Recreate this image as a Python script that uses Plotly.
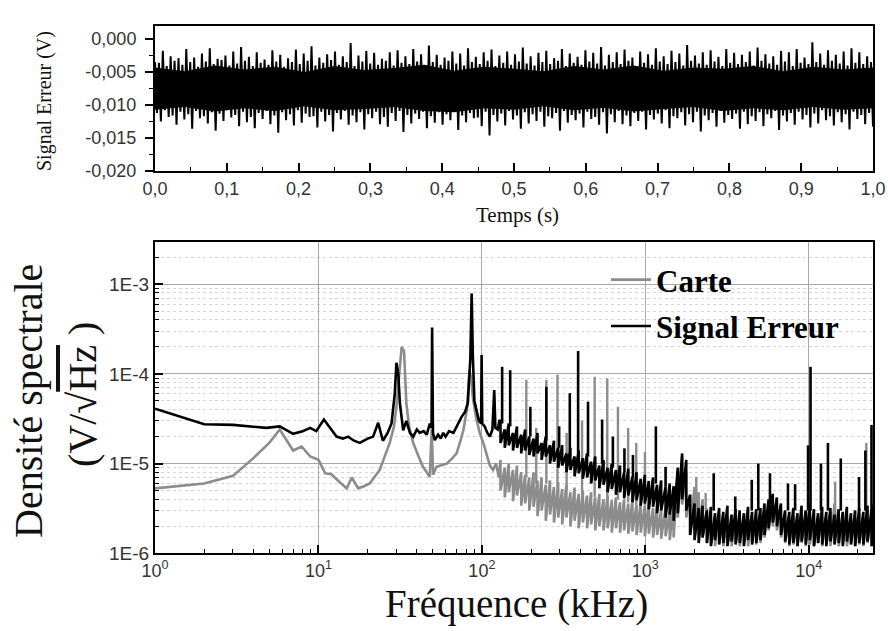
import numpy as np
import plotly.graph_objects as go

W, H = 888, 631

# ---------------- top panel: error signal (mV) ----------------
sig_hi = [-3.5,-1.8,-2.6,-2.9,-1.5,-2.8,-2.2,-1.4,-3.0,-2.5,
          -1.9,-1.2,-2.7,-2.0,-3.1,-1.7,-2.4,-2.9,-1.6,-2.2,
          -1.1,-2.8,-2.3,-1.9,-2.6,-0.6,-2.5,-1.8,-2.1,-3.0,
          -2.0,-1.7,-2.6,-1.5,-2.3,-1.0,-2.4,-2.8,-1.9,-2.2,
          -1.4,-2.7,-2.0,-1.6,-2.5,-1.9,-2.3,-1.3,-2.6,-2.1,
          -1.8,-2.9,-1.5,-2.2,-2.7,-1.7,-2.1,-1.2,-2.4,-2.0,
          -1.6,-2.8,-1.9,-2.3,-1.4,-2.6,-1.8,-2.2,-0.9,-2.5,
          -2.0,-1.7,-2.7,-1.5,-2.1,-2.4,-1.9,-1.3,-2.3,-2.6,
          -1.8,-2.0,-1.5,-2.8,-0.5,-2.2,-1.7,-2.4,-1.9,-1.4,
          -2.0,-2.6]
sig_lo = [-12.5,-11.8,-13.0,-12.2,-13.6,-12.0,-12.8,-13.9,-12.4,-11.9,
          -13.2,-12.6,-13.5,-12.1,-12.9,-14.2,-12.3,-13.1,-12.7,-11.8,
          -13.4,-12.5,-14.0,-12.2,-13.0,-12.6,-13.7,-12.0,-12.9,-13.3,
          -12.4,-14.1,-12.8,-12.1,-13.5,-12.7,-13.0,-12.3,-13.8,-12.6,
          -12.0,-13.2,-14.6,-12.5,-13.1,-12.2,-13.6,-12.8,-12.4,-13.3,
          -12.0,-13.9,-12.7,-12.3,-13.4,-12.1,-13.0,-14.3,-12.6,-12.9,
          -13.2,-12.4,-13.7,-12.2,-12.8,-13.5,-12.0,-13.1,-12.6,-14.0,
          -12.3,-13.3,-12.7,-12.1,-13.6,-12.9,-12.4,-13.2,-12.0,-13.8,
          -12.5,-13.0,-12.2,-13.4,-12.8,-12.3,-13.1,-12.6,-13.7,-12.1,
          -12.9,-13.3]
# secondary, smaller oscillations inside each beat (mV)
sig_mid_hi = [-3.6,-4.1,-3.3,-3.9,-3.5,-4.2,-3.4,-3.8,-3.2,-4.0,
              -3.7,-3.3,-4.1,-3.6,-3.9,-3.4,-4.2,-3.5,-3.8,-3.3,
              -4.0,-3.6,-3.2,-3.9,-3.5,-4.1,-3.4,-3.7,-3.9,-3.3,
              -4.0,-3.6,-3.8,-3.4,-4.1,-3.5,-3.9,-3.3,-3.7,-4.0,
              -3.5,-3.8,-3.3,-4.1,-3.6,-3.9,-3.4,-3.7,-4.0,-3.5,
              -3.8,-3.3,-4.1,-3.6,-3.9,-3.4,-3.7,-4.0,-3.5,-3.8,
              -3.3,-4.1,-3.6,-3.9,-3.4,-3.8,-3.5,-4.0,-3.3,-3.7,
              -3.9,-3.4,-4.1,-3.6,-3.8,-3.5,-4.0,-3.3,-3.7,-3.9,
              -3.4,-4.1,-3.6,-3.8,-3.5,-3.9,-3.3,-3.7,-4.0,-3.6,
              -3.8,-3.5]
sig_mid_lo = [-11.2,-10.8,-11.6,-11.0,-11.4,-10.9,-11.7,-11.1,-11.3,-10.8,
              -11.5,-11.0,-11.8,-11.2,-10.9,-11.6,-11.1,-11.4,-10.8,-11.3,
              -11.7,-11.0,-11.5,-11.2,-10.9,-11.6,-11.1,-11.4,-11.0,-11.8,
              -11.2,-10.9,-11.5,-11.3,-11.0,-11.7,-11.1,-11.4,-10.8,-11.6,
              -11.2,-11.9,-11.0,-11.5,-11.3,-10.9,-11.6,-11.1,-11.4,-11.0,
              -11.7,-11.2,-10.9,-11.5,-11.3,-11.0,-11.8,-11.1,-11.4,-10.9,
              -11.6,-11.2,-11.0,-11.5,-11.3,-10.8,-11.7,-11.1,-11.4,-11.0,
              -11.6,-11.2,-10.9,-11.5,-11.3,-11.0,-11.7,-11.1,-11.4,-10.9,
              -11.6,-11.2,-11.0,-11.5,-11.3,-10.8,-11.7,-11.1,-11.4,-11.0,
              -11.5,-11.2]
core_top = [-4.3,-4.9,-4.0,-4.6,-4.2,-5.0,-4.1,-4.7,-4.4,-3.9,-4.8,-4.2,-4.5,
            -4.9,-4.1,-4.6,-4.0,-4.8,-4.3,-4.5,-4.1,-4.9,-4.2,-4.6,-4.3]
core_bot = [-10.7,-10.3,-11.0,-10.5,-10.9,-10.2,-10.8,-10.6,-10.3,-10.9,-11.1,-10.5,-10.7,
            -10.2,-10.8,-10.4,-11.0,-10.6,-10.3,-10.9,-10.5,-10.8,-10.3,-10.7,-10.5]

time_ticks = [0.0,0.1,0.2,0.3,0.4,0.5,0.6,0.7,0.8,0.9,1.0]
time_labels = ["0,0","0,1","0,2","0,3","0,4","0,5","0,6","0,7","0,8","0,9","1,0"]
volt_ticks = [0.0,-0.005,-0.010,-0.015,-0.020]
volt_labels = ["0,000","-0,005","-0,010","-0,015","-0,020"]

# ---------------- bottom panel: spectral density ----------------
erreur_lf_f = [1,2,3,4,4.8,5.8,7.0,8.0,8.9,9.7,
               10.8,11.8,12.9,14.1,15.2,16.5,17.9,20,21.6,23.2,
               24.8,26.5,28,29.3,30,30.8,31.5,33,34.5,36.3,
               38,40,41.7,44,46,48,49.2,49.6,50.2,51.5,
               54,56,58,60,63,67,70,75,79,82,
               85,86.6,88,90,92.5,96,99,99.6,100.5,104,
               108,112,116,119,121,125,128]
erreur_lf_v = [4.1e-5,2.75e-5,2.7e-5,2.6e-5,2.5e-5,2.6e-5,2.15e-5,2.3e-5,2.5e-5,2.3e-5,
               3.1e-5,2.5e-5,2.0e-5,1.9e-5,2.0e-5,1.8e-5,1.7e-5,1.9e-5,2.0e-5,2.85e-5,
               1.8e-5,2.2e-5,2.8e-5,6e-5,1.33e-4,1.0e-4,4.7e-5,2.35e-5,3.0e-5,2.2e-5,
               2.0e-5,2.4e-5,2.2e-5,2.3e-5,2.1e-5,2.8e-5,2.5e-5,3.3e-4,2.2e-5,1.83e-5,
               2.1e-5,1.9e-5,2.2e-5,2.0e-5,2.3e-5,2.2e-5,2.6e-5,3.3e-5,3.8e-5,4.7e-5,
               1.5e-4,7.9e-4,1.6e-4,5e-5,4.0e-5,3.0e-5,2.8e-5,1.62e-4,2.8e-5,2.6e-5,
               2.2e-5,2.0e-5,2.4e-5,6.6e-5,2.5e-5,2.4e-5,3.0e-5]

carte_lf_f = [1,2,3,4,5,5.8,7.0,7.9,8.9,10,
              11,12,13.5,14.9,16,17.5,19,20.6,23.7,27.3,
              29,30,31.5,32.3,33.4,34.5,36,38,41,43.6,
              46,48,49.3,50.3,52.7,56,61,66,70,74,
              77,81,84,86,88,92,97,102,108,112,
              117,122,127]
carte_lf_v = [5.3e-6,6.0e-6,7.3e-6,1.15e-5,1.7e-5,2.4e-5,1.4e-5,1.55e-5,1.2e-5,1.1e-5,
              7.8e-6,7.6e-6,6.2e-6,5.3e-6,7.0e-6,5.3e-6,5.6e-6,6.0e-6,8.5e-6,1.7e-5,
              2.6e-5,4.3e-5,1.2e-4,2.0e-4,1.8e-4,4.7e-5,2.5e-5,1.7e-5,1.2e-5,9.2e-6,
              8.0e-6,7.1e-6,2.4e-5,7.5e-6,9.2e-6,9.5e-6,1.0e-5,1.15e-5,1.3e-5,1.8e-5,
              2.35e-5,4e-5,1.1e-4,9e-5,5.5e-5,3.3e-5,2.2e-5,1.7e-5,1.2e-5,9.5e-6,
              8.5e-6,1.0e-5,7.0e-6]

# dense (noisy) part: frequency grid (kHz) and upper / lower excursions (units of 1e-6 V/sqrt(Hz))
band_f = [130,138,146,155,164,174,184,195,207,219,232,246,261,276,293,310,329,348,369,391,
          415,440,466,494,523,555,588,623,661,700,742,787,834,884,937,993,1050,1115,1180,1250,
          1330,1410,1490,1580,1680,1780,1880,2000,2120,2240,2380,2520,2670,2830,3000,3180,3370,3570,3780,4010,
          4250,4500,4770,5060,5360,5680,6020,6380,6760,7170,7600,8050,8530,9040,9580,10150,10760,11400,12080,12800,
          13570,14380,15240,16150,17110,18130,19220,20360,21580,22870,24240,24700]

erreur_hi = [30,24,28,22,26,21,24,20, 19,22,17,20,16,18,15, 16,13,15,12,14,11.5,13,
             10.5,12,9.5,11,9,10, 8.5,9.5,8,8.8,7.2,8,6.8,7.5, 6.4,7,5.8,6.5,5.5,6,5.6,
             9,13,11, 4.5,3.6,3.2,3.4,
             3.0,3.3,2.8,3.2,2.9,3.4,2.7,3.1,3.0,2.8,3.3,2.9,3.1,
             3.2,3.6,4.0,4.6,4.2,3.6,3.0,
             2.9,3.2,2.8,3.4,3.0,3.6,3.1,2.8,3.3,2.9,3.2,2.7,3.1,2.9,3.3,2.8,3.0,3.2,2.9,3.4,3.1,3.5]
erreur_lo = [17,15,16,14,15,13,14,12.5, 12,13,11,12,10,10.5,9, 9.5,8,8.5,7.2,7.8,6.8,7,
             6,6.5,5.3,5.8,4.8,5.2, 4.5,4.8,4.1,4.4,3.7,3.9,3.4,3.6, 3.1,3.3,2.8,3.0,2.5,2.7,2.3,
             2.8,4,3, 1.6,1.4,1.3,1.5,
             1.3,1.2,1.4,1.25,1.3,1.2,1.35,1.25,1.3,1.2,1.4,1.25,1.3,
             1.4,1.6,1.9,2.2,2.0,1.6,1.35,
             1.25,1.3,1.2,1.35,1.25,1.4,1.2,1.3,1.25,1.2,1.35,1.25,1.3,1.2,1.35,1.25,1.2,1.3,1.25,1.35,1.2,1.3]
carte_hi = [11,9,10,8.5,9.5,8,7.5,7, 8,6.5,7,5.8,6.5,5.5,6.2, 5.2,5.8,4.8,5.4,4.6,5.0,4.4,
            4.8,4.2,4.6,4.0,4.4,3.9, 4.2,3.7,4.0,3.6,3.9,3.5,3.7,3.4, 3.6,3.2,3.4,3.0,3.2,2.9,3.5,
            8,12,8, 4.5,5.5,4.8,4.0,
            3.2,2.6,2.4,2.7,2.3,2.6,2.2,2.5,2.3,2.6,2.2,2.4,2.5,
            2.7,3.0,3.6,4.2,3.8,3.0,2.6,
            2.4,2.6,2.3,2.7,2.4,2.8,2.5,2.3,2.6,2.4,2.9,3.6,2.6,2.4,2.7,2.3,2.5,2.8,2.4,3.0,2.6,2.8]
carte_lo = [5,4.2,4.8,3.8,4.4,3.4,3.6,3.0, 3.3,2.6,3.0,2.3,2.7,2.2,2.5, 2.1,2.5,2.0,2.3,1.9,2.2,1.9,
            2.1,1.8,2.0,1.8,1.9,1.7, 1.9,1.7,1.8,1.65,1.75,1.6,1.7,1.55, 1.65,1.5,1.6,1.45,1.55,1.4,1.5,
            2.5,3.5,2.5, 1.6,1.8,1.6,1.5,
            1.3,1.25,1.2,1.3,1.2,1.25,1.2,1.3,1.2,1.25,1.2,1.3,1.25,
            1.3,1.5,1.8,2.0,1.8,1.5,1.3,
            1.2,1.25,1.2,1.3,1.2,1.25,1.2,1.3,1.2,1.25,1.2,1.3,1.2,1.25,1.2,1.3,1.2,1.25,1.2,1.3,1.2,1.25]

# narrow lines: frequency, base, top
erreur_spk_f = [133,149,198,248,297,345,388,446,544,633,745,840,1160,1330,2620,3550,4480,4910,5790,
                7460,8250,9900,10250,11870,13100,15700,20300,22200,24200]
erreur_spk_b = [2.8e-5,2.6e-5,2.0e-5,1.8e-5,1.5e-5,1.4e-5,1.3e-5,1.2e-5,1.0e-5,9e-6,8e-6,7e-6,6e-6,5.5e-6,
                3e-6,3e-6,3e-6,3e-6,3.5e-6,3e-6,3e-6,3e-6,3e-6,3e-6,3e-6,3e-6,3e-6,3e-6,3e-6]
erreur_spk_t = [1.2e-4,1.1e-4,4.3e-5,7.2e-5,2.6e-5,6.1e-5,1.8e-4,4.9e-5,3.1e-5,2.0e-5,1.48e-5,1.25e-5,2.6e-5,9.2e-6,
                7.8e-6,4.3e-6,6.6e-6,1.0e-5,7.8e-6,6.0e-6,5.9e-6,1.6e-5,1.2e-4,1.0e-5,1.7e-5,1.14e-5,7.1e-6,1.4e-5,2.7e-5]
carte_spk_f = [187,215,248,290,330,410,490,585,680,785,880,995,2050,2340,14500,22500]
carte_spk_b = [7e-6,6e-6,6e-6,5.5e-6,5e-6,4.5e-6,4.2e-6,4e-6,4e-6,3.7e-6,3.5e-6,3.4e-6,3e-6,3e-6,2.5e-6,2.5e-6]
carte_spk_t = [8.6e-5,2.5e-5,8.6e-5,9.8e-5,2.2e-5,3.0e-5,9.3e-5,8.9e-5,4.3e-5,2.5e-5,1.7e-5,1.35e-5,7.1e-6,4.7e-6,6.3e-6,1.7e-5]

freq_ticks = [1, 10, 100, 1000, 10000]
freq_labels = ["10<sup>0</sup>", "10<sup>1</sup>", "10<sup>2</sup>", "10<sup>3</sup>", "10<sup>4</sup>"]
dens_ticks = [1e-6, 1e-5, 1e-4, 1e-3]
dens_labels = ["1E-6", "1E-5", "1E-4", "1E-3"]

GRAY = "#8c8c8c"

# ---- build traces ----
n = min(len(sig_hi), len(sig_lo), len(sig_mid_hi), len(sig_mid_lo))
sig_vals = []
for a, m1, m2, b in zip(sig_hi[:n], sig_mid_lo[:n], sig_mid_hi[:n], sig_lo[:n]):
    sig_vals += [a * 1e-3, m1 * 1e-3, m2 * 1e-3, b * 1e-3]
sig_t = np.linspace(0, 1, len(sig_vals))
core_t = np.linspace(0, 1, len(core_top))

def zig(lf_f, lf_v, hi, lo):
    xs, ys = list(lf_f), list(lf_v)
    for f, a, b in zip(band_f, hi, lo):
        xs += [f, f]
        ys += [a * 1e-6, b * 1e-6]
    return xs, ys

def spikes(fs, bs, ts):
    xs, ys = [], []
    for f, b, t in zip(fs, bs, ts):
        xs += [f, f, None]
        ys += [b, t, None]
    return xs, ys

fig = go.Figure()

fig.add_trace(go.Scatter(
    x=np.concatenate([core_t, core_t[::-1]]),
    y=np.concatenate([np.array(core_top) * 1e-3, np.array(core_bot[::-1]) * 1e-3]),
    fill="toself", fillcolor="black", line=dict(width=0), mode="lines",
    showlegend=False, hoverinfo="skip", xaxis="x", yaxis="y"))
fig.add_trace(go.Scatter(x=sig_t, y=sig_vals, mode="lines",
                         line=dict(color="black", width=2.0),
                         showlegend=False, xaxis="x", yaxis="y"))

cx, cy = zig(carte_lf_f, carte_lf_v, carte_hi, carte_lo)
ex, ey = zig(erreur_lf_f, erreur_lf_v, erreur_hi, erreur_lo)
csx, csy = spikes(carte_spk_f, carte_spk_b, carte_spk_t)
esx, esy = spikes(erreur_spk_f, erreur_spk_b, erreur_spk_t)

fig.add_trace(go.Scatter(x=cx, y=cy, mode="lines", name="Carte", legendgroup="c",
                         line=dict(color=GRAY, width=2.6), xaxis="x2", yaxis="y2"))
fig.add_trace(go.Scatter(x=csx, y=csy, mode="lines", showlegend=False, legendgroup="c",
                         line=dict(color=GRAY, width=2.4), xaxis="x2", yaxis="y2"))
fig.add_trace(go.Scatter(x=ex, y=ey, mode="lines", name="Signal Erreur", legendgroup="e",
                         line=dict(color="black", width=2.6), xaxis="x2", yaxis="y2"))
fig.add_trace(go.Scatter(x=esx, y=esy, mode="lines", showlegend=False, legendgroup="e",
                         line=dict(color="black", width=2.6), xaxis="x2", yaxis="y2"))

tickfont = dict(family="Liberation Sans, Arial, sans-serif", size=18, color="#333333")
xdom = [155 / W, 873 / W]

minor_log_x = [m * 10 ** k for k in range(0, 5) for m in range(2, 10)]
minor_log_y = [m * 10.0 ** k for k in range(-6, -2) for m in range(2, 10)]

fig.update_layout(
    width=W, height=H, autosize=False,
    margin=dict(l=0, r=0, t=0, b=0),
    paper_bgcolor="white", plot_bgcolor="white",
    showlegend=True,
    legend=dict(x=606 / W, y=1 - 253 / H, xanchor="left", yanchor="top",
                bgcolor="rgba(0,0,0,0)", traceorder="grouped", tracegroupgap=3,
                font=dict(family="Liberation Serif, Times New Roman, serif", size=31,
                          color="black", weight="bold"),
                itemwidth=40),
    xaxis=dict(domain=xdom, anchor="y", range=[0, 1], tickmode="array",
               tickvals=time_ticks, ticktext=time_labels,
               ticks="inside", ticklen=8, tickwidth=1.5, tickcolor="black",
               minor=dict(tickmode="array", tickvals=[0.05, 0.15, 0.25, 0.35, 0.45, 0.55, 0.65, 0.75, 0.85, 0.95],
                          ticks="inside", ticklen=4, tickwidth=1.2, tickcolor="black"),
               showline=True, linecolor="black", linewidth=2, mirror=True,
               showgrid=False, zeroline=False, tickfont=tickfont, automargin=False),
    yaxis=dict(domain=[1 - 171 / H, 1 - 25.5 / H], anchor="x", range=[-0.020, 0.00205],
               tickmode="array", tickvals=volt_ticks, ticktext=volt_labels,
               ticks="outside", ticklen=8, tickwidth=1.5, tickcolor="black",
               ticklabelstandoff=5,
               minor=dict(tickmode="array", tickvals=[-0.0025, -0.0075, -0.0125, -0.0175],
                          ticks="outside", ticklen=4, tickwidth=1.2, tickcolor="black"),
               showline=True, linecolor="black", linewidth=2, mirror=True,
               showgrid=False, zeroline=False, tickfont=tickfont, automargin=False),
    xaxis2=dict(domain=xdom, anchor="y2", type="log", range=[0, 4.393],
                tickmode="array", tickvals=freq_ticks, ticktext=freq_labels,
                ticks="inside", ticklen=8, tickwidth=1.5, tickcolor="black",
                minor=dict(tickmode="array", tickvals=minor_log_x, ticks="inside",
                           ticklen=4, tickwidth=1.2, tickcolor="black", showgrid=False),
                showline=True, linecolor="black", linewidth=2, mirror=True,
                showgrid=True, gridcolor="#a8a8a8", gridwidth=1, zeroline=False,
                tickfont=dict(family="Liberation Sans, Arial, sans-serif", size=18, color="#333333"),
                automargin=False),
    yaxis2=dict(domain=[1 - 553.3 / H, 1 - 241.7 / H], anchor="x2", type="log", range=[-6, -2.526],
                tickmode="array", tickvals=dens_ticks, ticktext=dens_labels,
                ticks="inside", ticklen=8, tickwidth=1.5, tickcolor="black",
                minor=dict(tickmode="array", tickvals=minor_log_y, ticks="inside",
                           ticklen=4, tickwidth=1.2, tickcolor="black",
                           showgrid=True, gridcolor="#d6d6d6", griddash="dot", gridwidth=1),
                showline=True, linecolor="black", linewidth=2, mirror=True,
                showgrid=True, gridcolor="#a8a8a8", gridwidth=1, zeroline=False,
                tickfont=dict(family="Liberation Sans, Arial, sans-serif", size=19, color="#333333"),
                automargin=False),
)

serif = "Liberation Serif, Times New Roman, serif"
ann = [
    dict(text="Signal Erreur (V)", x=44 / W, y=1 - 101 / H, textangle=-90, size=20),
    dict(text="Temps (s)", x=517 / W, y=1 - 215 / H, textangle=0, size=21),
    dict(text="Densité spectrale", x=28 / W, y=1 - 401 / H, textangle=-90, size=40),
    dict(text="(V/√<span style='text-decoration:overline'>Hz</span> )", x=82 / W, y=1 - 395 / H, textangle=-90, size=40),
    dict(text="Fréquence (kHz)", x=516 / W, y=1 - 604 / H, textangle=0, size=39),
]
for a in ann:
    fig.add_annotation(text=a["text"], x=a["x"], y=a["y"], xref="paper", yref="paper",
                       xanchor="center", yanchor="middle", textangle=a["textangle"],
                       showarrow=False, font=dict(family=serif, size=a["size"], color="#111111"))

fig.write_html("out.html", config={"displayModeBar": False},
               post_script="document.body.style.margin='0px';document.body.style.padding='0px';")
